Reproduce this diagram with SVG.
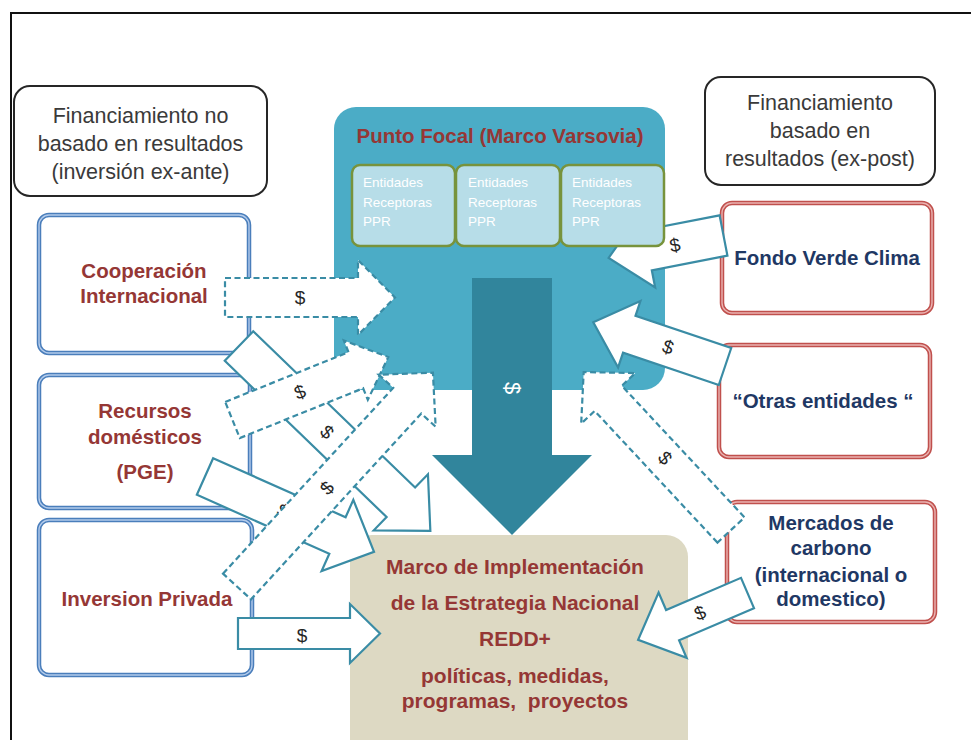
<svg xmlns="http://www.w3.org/2000/svg" width="971" height="740" viewBox="0 0 971 740">
  <style>
    .frame { fill: none; stroke: #111; stroke-width: 2; }
    .note { fill: #fff; stroke: #262626; stroke-width: 2; }
    .note-t { font-family: "Liberation Sans", Arial, sans-serif; font-size: 21.5px; fill: #3a3a3a; text-anchor: middle; }
    .blue-o { fill: #fff; stroke: #4a7ebb; stroke-width: 4.5; }
    .blue-i { fill: none; stroke: #b3cbeb; stroke-width: 1.4; }
    .red-o { fill: #fff; stroke: #c0504d; stroke-width: 4.5; }
    .red-i { fill: none; stroke: #eab3b1; stroke-width: 1.4; }
    .lbl { font-family: "Liberation Sans", Arial, sans-serif; font-size: 20.5px; font-weight: bold; text-anchor: middle; white-space: pre; }
    .brown { fill: #953735; }
    .navy { fill: #1f3864; }
    .focal { fill: #4bacc6; }
    .sub { fill: #b7dde8; stroke: #77933c; stroke-width: 2.5; }
    .sub-t { font-family: "Liberation Sans", Arial, sans-serif; font-size: 13.5px; fill: #ffffff; }
    .arr { fill: #fff; stroke: #3a8ca5; stroke-width: 2.2; stroke-linejoin: miter; }
    .dash { stroke-dasharray: 6 3.5; }
    .usd { font-family: "Liberation Sans", Arial, sans-serif; font-size: 19px; fill: #262626; text-anchor: middle; dominant-baseline: central; }
  </style>

  <!-- page frame -->
  <path class="frame" d="M11,740 V13 H971"/>

  <!-- headings -->
  <g id="fin-ex-ante">
    <rect class="note" x="14" y="86" width="253" height="110" rx="16"/>
    <text class="note-t" x="140.5" y="123">Financiamiento no</text>
    <text class="note-t" x="140.5" y="151">basado en resultados</text>
    <text class="note-t" x="140.5" y="179">(inversión ex-ante)</text>
  </g>
  <g id="fin-ex-post">
    <rect class="note" x="705" y="77" width="230" height="108" rx="16"/>
    <text class="note-t" x="820" y="110">Financiamiento</text>
    <text class="note-t" x="820" y="138">basado en</text>
    <text class="note-t" x="820" y="166">resultados (ex-post)</text>
  </g>

  <!-- sources, non result-based -->
  <g id="cooperacion">
    <rect class="blue-o" x="39" y="215" width="210" height="138" rx="10"/>
    <rect class="blue-i" x="39" y="215" width="210" height="138" rx="10"/>
    <text class="lbl brown" x="144" y="278">Cooperación</text>
    <text class="lbl brown" x="144" y="303">Internacional</text>
  </g>
  <g id="recursos">
    <rect class="blue-o" x="39" y="375" width="211" height="133" rx="10"/>
    <rect class="blue-i" x="39" y="375" width="211" height="133" rx="10"/>
    <text class="lbl brown" x="145" y="418">Recursos</text>
    <text class="lbl brown" x="145" y="444">domésticos</text>
    <text class="lbl brown" x="145" y="479">(PGE)</text>
  </g>
  <g id="inversion">
    <rect class="blue-o" x="39" y="520" width="213" height="155" rx="10"/>
    <rect class="blue-i" x="39" y="520" width="213" height="155" rx="10"/>
    <text class="lbl brown" x="147" y="606">Inversion Privada</text>
  </g>

  <!-- sources, result-based -->
  <g id="fondo-verde">
    <rect class="red-o" x="722" y="203" width="210" height="110" rx="10"/>
    <rect class="red-i" x="722" y="203" width="210" height="110" rx="10"/>
    <text class="lbl navy" x="827" y="265">Fondo Verde Clima</text>
  </g>
  <g id="otras">
    <rect class="red-o" x="719" y="345" width="211" height="112" rx="10"/>
    <rect class="red-i" x="719" y="345" width="211" height="112" rx="10"/>
    <text class="lbl navy" x="823" y="408">“Otras entidades “</text>
  </g>
  <g id="mercados">
    <rect class="red-o" x="727" y="502" width="208" height="120" rx="10"/>
    <rect class="red-i" x="727" y="502" width="208" height="120" rx="10"/>
    <text class="lbl navy" x="831" y="530">Mercados de</text>
    <text class="lbl navy" x="831" y="555">carbono</text>
    <text class="lbl navy" x="831" y="582">(internacional o</text>
    <text class="lbl navy" x="831" y="606">domestico)</text>
  </g>

  <!-- focal point -->
  <g id="punto-focal">
    <rect class="focal" x="334" y="107" width="331" height="283" rx="22"/>
    <text class="lbl brown" x="500" y="143">Punto Focal (Marco Varsovia)</text>
  </g>

  <!-- implementation framework -->
  <g id="marco">
    <rect x="350" y="535" width="338" height="230" rx="22" fill="#ddd9c3"/>
    <text class="lbl brown" x="515" y="574" style="font-size:21px">Marco de Implementación</text>
    <text class="lbl brown" x="515" y="610" style="font-size:21px">de la Estrategia Nacional</text>
    <text class="lbl brown" x="515" y="646" style="font-size:21px">REDD+</text>
    <text class="lbl brown" x="515" y="683" style="font-size:21px">políticas, medidas,</text>
    <text class="lbl brown" x="515" y="708" style="font-size:21px" xml:space="preserve">programas,  proyectos</text>
  </g>

  <!-- money flows -->
  <g id="connectors">
    <!-- focal point to implementation -->
    <g id="flow-focal-marco">
      <path d="M472,278 H552 V455 H592 L512,535 L432,455 H472 Z" fill="#31859c"/>
      <text class="usd" transform="translate(512,388) rotate(90)" style="fill:#fff;font-size:22px">$</text>
    </g>
    <!-- Fondo Verde Clima to focal point (runs beneath the entity boxes) -->
    <g id="flow-fondo">
      <path class="arr" transform="translate(723.5,235.5) rotate(169)" d="M0,-20.5 H77 V-38 L117,0 L77,38 V20.5 H0 Z"/>
      <text class="usd" transform="translate(675,245) rotate(-11)">$</text>
    </g>
    <g id="flow-coop-focal">
      <path class="arr dash" transform="translate(225,297.5)" d="M0,-19.5 H133 V-37.5 L170,0 L133,37.5 V19.5 H0 Z"/>
      <text class="usd" x="300" y="297">$</text>
    </g>
    <g id="flow-coop-marco">
      <path class="arr" transform="translate(239,346) rotate(44)" d="M0,-20.5 H225 V-39 L266,0 L225,39 V20.5 H0 Z"/>
      <text class="usd" transform="translate(327,432) rotate(44)">$</text>
    </g>
    <g id="flow-pge-marco">
      <path class="arr" transform="translate(205,476.5) rotate(24)" d="M0,-20 H145 V-39 L185,0 L145,39 V20 H0 Z"/>
      <text class="usd" transform="translate(283,511) rotate(24)">$</text>
    </g>
    <g id="flow-pge-focal">
      <path class="arr dash" transform="translate(232.5,420) rotate(-22)" d="M0,-19.5 H133 V-32 L168,0 L133,32 V19.5 H0 Z"/>
      <text class="usd" transform="translate(300,392) rotate(-22)">$</text>
    </g>
    <g id="flow-privada-focal">
      <path class="arr dash" transform="translate(237,586.5) rotate(-47.5)" d="M0,-19 H252 V-38.5 L290,0 L252,38.5 V19 H0 Z"/>
      <text class="usd" transform="translate(327,488) rotate(-47.5)">$</text>
    </g>
    <g id="flow-privada-marco">
      <path class="arr" transform="translate(238,633.5)" d="M0,-15.5 H112 V-29.5 L142,0 L112,29.5 V15.5 H0 Z"/>
      <text class="usd" x="302" y="635">$</text>
    </g>
    <g id="flow-otras">
      <path class="arr" transform="translate(725,366.5) rotate(198.6)" d="M0,-19.5 H101 V-35 L139,0 L101,35 V19.5 H0 Z"/>
      <text class="usd" transform="translate(668,347) rotate(18.6)">$</text>
    </g>
    <g id="flow-mercados-focal">
      <path class="arr dash" transform="translate(731,530) rotate(227)" d="M0,-18.5 H180 V-37 L216,0 L180,37 V18.5 H0 Z"/>
      <text class="usd" transform="translate(665,458) rotate(47)">$</text>
    </g>
    <g id="flow-mercados-marco">
      <path class="arr" transform="translate(747.5,593) rotate(156.8)" d="M0,-16.5 H81.5 V-35.5 L119,0 L81.5,35.5 V16.5 H0 Z"/>
      <text class="usd" transform="translate(700,613) rotate(-23.2)">$</text>
    </g>
  </g>

  <!-- receiving entities inside the focal point -->
  <g id="entidades">
    <g id="entidad-1">
      <rect class="sub" x="352" y="165" width="103" height="81" rx="8"/>
      <text class="sub-t" x="363" y="187">Entidades</text>
      <text class="sub-t" x="363" y="207">Receptoras</text>
      <text class="sub-t" x="363" y="226">PPR</text>
    </g>
    <g id="entidad-2">
      <rect class="sub" x="456" y="165" width="104" height="81" rx="8"/>
      <text class="sub-t" x="468" y="187">Entidades</text>
      <text class="sub-t" x="468" y="207">Receptoras</text>
      <text class="sub-t" x="468" y="226">PPR</text>
    </g>
    <g id="entidad-3">
      <rect class="sub" x="561" y="165" width="103" height="81" rx="8"/>
      <text class="sub-t" x="572" y="187">Entidades</text>
      <text class="sub-t" x="572" y="207">Receptoras</text>
      <text class="sub-t" x="572" y="226">PPR</text>
    </g>
  </g>
</svg>
